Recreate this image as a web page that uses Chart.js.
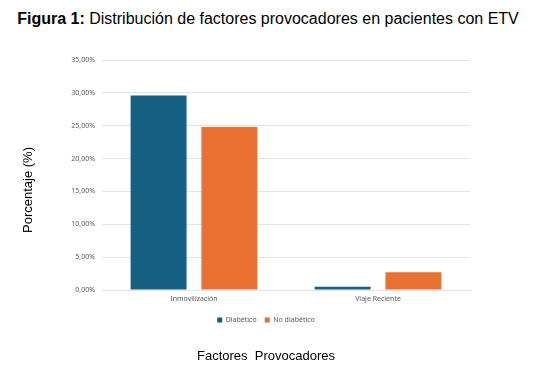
<!DOCTYPE html>
<html>
<head>
<meta charset="utf-8">
<script src="https://cdn.jsdelivr.net/npm/chart.js@4"></script>
<style>
    html, body { margin: 0; padding: 0; background: #fff; }
    #wrap { position: relative; width: 536px; height: 368px; }
    #fig-title {
        position: absolute; left: 0; top: 10px; width: 536px; text-align: center;
        font-family: "Liberation Sans", Arial, sans-serif; font-size: 16px; color: #000;
        white-space: nowrap;
    }
    #y-title {
        position: absolute; left: 28px; top: 190px; width: 120px; margin-left: -60px; margin-top: -8px;
        line-height: 16px; text-align: center; transform: rotate(-90deg);
        font-family: "Liberation Sans", Arial, sans-serif; font-size: 13px; color: #000;
        white-space: nowrap;
    }
    canvas { position: absolute; left: 0; top: 0; }
</style>
</head>
<body>
<div id="wrap">
    <div id="fig-title"><b>Figura 1:</b> Distribución de factores provocadores en pacientes con ETV</div>
    <canvas id="chart" width="536" height="368"></canvas>
    <div id="y-title">Porcentaje (%)</div>
</div>
<script>
var categories = ['Inmovilización', 'Viaje Reciente'];
var diabetico = [29.6, 0.5];
var noDiabetico = [24.8, 2.7];
var yTicks = [0, 5, 10, 15, 20, 25, 30, 35];

// the legend and the bottom title sit a bit right of where Chart.js centres them
var shiftBottomBoxes = {
    id: 'shiftBottomBoxes',
    afterLayout: function(chart) {
        var dx = 20;
        [chart.legend, chart.titleBlock].forEach(function(box) {
            if (box) {
                box.left += dx;
                box.right += dx;
            }
        });
    }
};

function initChart() {
    if (typeof Chart === 'undefined') {
        setTimeout(initChart, 50);
        return;
    }

    var canvas = document.getElementById('chart');
    var gray = '#595959';
    var grid = '#e3e3e3';
    var smallFont = { family: '"Noto Sans", sans-serif', size: 7 };

    new Chart(canvas, {
        type: 'bar',
        data: {
            labels: categories,
            datasets: [
                {
                    label: 'Diabético',
                    data: diabetico,
                    backgroundColor: '#156082',
                    categoryPercentage: 0.77,
                    barPercentage: 0.79
                },
                {
                    label: 'No diabético',
                    data: noDiabetico,
                    backgroundColor: '#E97132',
                    categoryPercentage: 0.77,
                    barPercentage: 0.79
                }
            ]
        },
        options: {
            responsive: false,
            animation: false,
            layout: {
                padding: { left: 22, right: 66, top: 60, bottom: 4 }
            },
            plugins: {
                tooltip: { enabled: false },
                legend: {
                    position: 'bottom',
                    labels: {
                        boxWidth: 5,
                        boxHeight: 5,
                        color: gray,
                        font: smallFont,
                        padding: 8
                    }
                },
                title: {
                    display: true,
                    position: 'bottom',
                    text: 'Factores  Provocadores',
                    color: '#000',
                    font: { family: '"Liberation Sans", Arial, sans-serif', size: 13, weight: 'normal' },
                    padding: { top: 15, bottom: 0 }
                }
            },
            scales: {
                x: {
                    grid: { display: false, drawTicks: false },
                    border: { color: grid },
                    ticks: { color: gray, font: smallFont, padding: 5 }
                },
                y: {
                    min: 0,
                    max: 35,
                    afterBuildTicks: function(scale) {
                        scale.ticks = yTicks.map(function(v) { return { value: v }; });
                    },
                    afterFit: function(scale) {
                        scale.width = 80;
                    },
                    grid: { color: grid, drawTicks: false },
                    border: { display: false },
                    ticks: {
                        color: gray,
                        font: smallFont,
                        padding: 7,
                        callback: function(v) {
                            return v.toFixed(2).replace('.', ',') + '%';
                        }
                    }
                }
            }
        },
        plugins: [shiftBottomBoxes]
    });
}

initChart();
</script>
</body>
</html>
